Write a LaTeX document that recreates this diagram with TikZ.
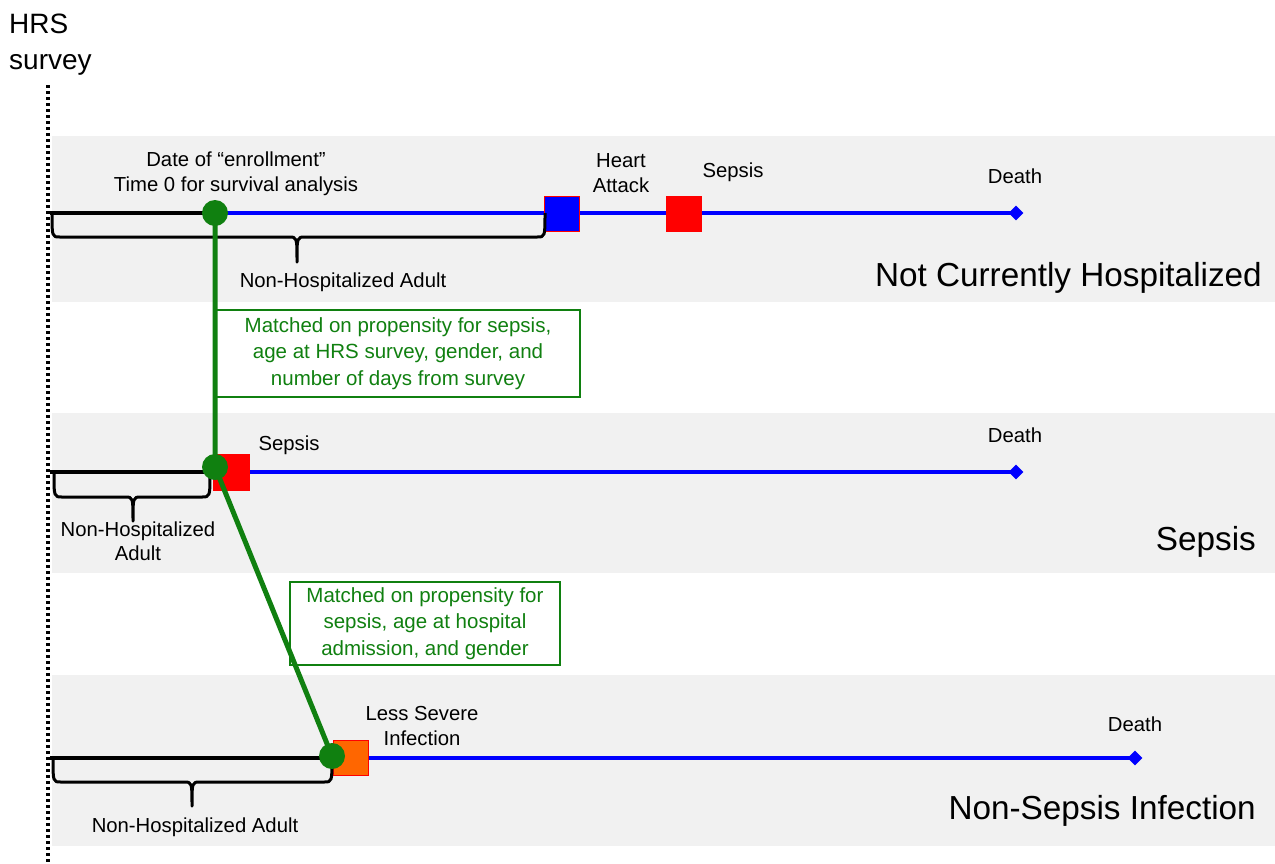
\documentclass[tikz,border=0pt]{standalone}
\usepackage{fontspec}
\setmainfont{Liberation Sans}
\usetikzlibrary{shapes.geometric}
\definecolor{band}{RGB}{241,241,241}
\definecolor{dgreen}{RGB}{16,128,16}
\definecolor{tblue}{RGB}{0,0,255}
\definecolor{orng}{RGB}{255,102,0}
\pgfdeclarelayer{bg}
\pgfdeclarelayer{ln}
\pgfdeclarelayer{fg}
\pgfdeclarelayer{top}
\pgfsetlayers{bg,ln,main,fg,top}
\begin{document}
\begin{tikzpicture}[x=1pt,y=-1pt,
  lbl/.style={font=\fontsize{20.3}{25}\selectfont, align=center, inner sep=0},
  big/.style={font=\fontsize{33.3}{38}\selectfont, inner sep=0, anchor=east},
  tl/.style={line width=4.5pt},
  dotn/.style={circle, fill=dgreen, minimum size=26pt, inner sep=0},
  sq/.style={draw=red, line width=1pt, minimum size=35pt, inner sep=0},
  endpt/.style={diamond, fill=tblue, minimum size=15pt, inner sep=0},
  mbox/.style={draw=dgreen, line width=1.2pt, text=dgreen, align=center,
    font=\fontsize{20.5}{26.5}\selectfont, inner sep=0},
  bracepath/.style={line width=3pt, line join=round},
  gline/.style={line width=5pt, dgreen}
]
\useasboundingbox (0,0) rectangle (1275,863);

% bands
\begin{pgfonlayer}{bg}
\fill[band] (52,136) rectangle (1275,302);
\fill[band] (52,413) rectangle (1275,573);
\fill[band] (52,675) rectangle (1275,846);
\end{pgfonlayer}

% survey line
\node[font=\fontsize{28}{36}\selectfont, align=left, inner sep=0, anchor=west] (hrs) at (9,45) {HRS\\survey};
\coordinate (vtop) at (48,85);
\coordinate (vbot) at (48,863);
\draw[line width=3.5pt, dash pattern=on 3pt off 3pt] (vtop) -- (vbot);

% ---------- row 1 ----------
\coordinate (s1) at (50,213);
\begin{pgfonlayer}{top}
\node[dotn] (c1) at (215,213) {};
\node[dotn] (c2) at (215,467) {};
\node[dotn] (c3) at (332,756) {};
\end{pgfonlayer}
\node[endpt] (d1) at (1016,213) {};
\node[sq, fill=tblue] (ha) at (562,214) {};
\node[sq, fill=red] (sp1) at (684,214) {};
\begin{pgfonlayer}{ln}
\draw[tl] (s1) -- (c1.center);
\draw[tl, tblue] (c1.center) -- (d1.center);
\end{pgfonlayer}
\draw[bracepath] (52,213) .. controls (52,237) .. (60,237) -- (289,237)
  .. controls (297,237) .. (297,262) .. controls (297,237) .. (305,237)
  -- (537,237) .. controls (545,237) .. (545,213);
\node[lbl] (enr) at (236,174) {Date of “enrollment”\\Time 0 for survival analysis};
\node[lbl] (hal) at (621,173) {Heart\\Attack};
\node[lbl] (spl1) at (733,172) {Sepsis};
\node[lbl] (dl1) at (1015,176) {Death};
\node[lbl] (nha1) at (343,282) {Non-Hospitalized Adult};
\node[big] (t1) at (1262,278) {Not Currently Hospitalized};

% ---------- row 2 ----------
\coordinate (s2) at (50,472);
\node[endpt] (d2) at (1016,472) {};
\node[sq, fill=red, minimum size=36pt] (sp2) at (231,472) {};
\begin{pgfonlayer}{ln}
\draw[tl] (s2) -- (c2.center |- s2);
\draw[tl, tblue] (c2.center |- s2) -- (d2.center);
\end{pgfonlayer}
\draw[bracepath] (54,472) .. controls (54,497) .. (62,497) -- (125,497)
  .. controls (133,497) .. (133,521) .. controls (133,497) .. (141,497)
  -- (202,497) .. controls (210,497) .. (210,472);
\node[lbl] (spl2) at (289,445) {Sepsis};
\node[lbl] (dl2) at (1015,435) {Death};
\node[lbl, font=\fontsize{20.3}{24}\selectfont] (nha2) at (138,541) {Non-Hospitalized\\Adult};
\node[big] (t2) at (1256,542) {Sepsis};

% ---------- row 3 ----------
\coordinate (s3) at (50,758);
\node[endpt] (d3) at (1135,758) {};
\node[sq, fill=orng] (lsi) at (351,758) {};
\begin{pgfonlayer}{ln}
\draw[tl] (s3) -- (c3.center |- s3);
\draw[tl, tblue] (c3.center |- s3) -- (d3.center);
\end{pgfonlayer}
\draw[bracepath] (53,758) .. controls (53,782) .. (61,782) -- (184,782)
  .. controls (192,782) .. (192,806) .. controls (192,782) .. (200,782)
  -- (324,782) .. controls (332,782) .. (332,758);
\node[lbl] (lsl) at (422,726) {Less Severe\\Infection};
\node[lbl] (dl3) at (1135,724) {Death};
\node[lbl] (nha3) at (195,827) {Non-Hospitalized Adult};
\node[big] (t3) at (1256,811) {Non-Sepsis Infection};

% ---------- matching ----------
\node[mbox, minimum width=364pt, minimum height=87pt, fill=white] (m1) at (398,353.5)
  {Matched on propensity for sepsis,\\age at HRS survey, gender, and\\number of days from survey};
\node[mbox, minimum width=270pt, minimum height=83pt, fill=white] (m2) at (425,623.5)
  {Matched on propensity for\\sepsis, age at hospital\\admission, and gender};
\begin{pgfonlayer}{fg}
\draw[gline] (c1.center) -- (c2.center) -- (c3.center);
\end{pgfonlayer}
\end{tikzpicture}
\end{document}
